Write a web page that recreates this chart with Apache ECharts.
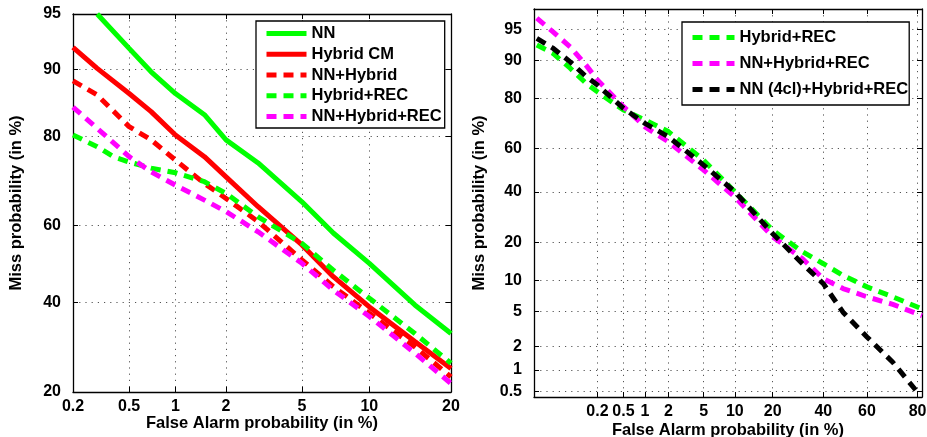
<!DOCTYPE html>
<html>
<head>
<meta charset="utf-8">
<script src="https://cdn.jsdelivr.net/npm/echarts@6/dist/echarts.min.js"></script>
<style>html,body{margin:0;padding:0;background:#fff;} #chart{width:927px;height:437px;}</style>
</head>
<body>
<div id="chart"></div>
<script>
// tick labels (in %)
let leftXTicks = [0.2, 0.5, 1, 2, 5, 10, 20];
let leftYTicks = [20, 40, 60, 80, 90, 95];
let rightXTicks = [0.2, 0.5, 1, 2, 5, 10, 20, 40, 60, 80];
let rightYTicks = [0.5, 1, 2, 5, 10, 20, 40, 60, 80, 90, 95];

// axis limits (in %)
let leftXRange = [0.2, 20];
let leftYRange = [20, 95];
let rightXRange = [0.015, 81.4];
let rightYRange = [0.41, 97];

// left panel curves: [false alarm %, miss %]
let nnLeft = [[0.3, 95], [0.5, 92.2], [0.7, 89.7], [1, 86.9], [1.5, 83.7], [2, 79.3], [3, 74.7], [5, 65.9], [7, 58.1], [10, 50.2], [15, 39.4], [20, 32.4]];
let hybridCmLeft = [[0.2, 92.3], [0.3, 90.1], [0.5, 86.9], [0.7, 84.2], [1, 80.2], [1.5, 76.0], [2, 71.7], [3, 64.7], [5, 55.0], [7, 46.7], [10, 38.9], [15, 30.5], [20, 24.6]];
let nnHybridLeft = [[0.2, 88.6], [0.3, 86.7], [0.5, 81.7], [0.7, 79.3], [1, 75.3], [1.5, 70.2], [2, 66.7], [3, 61.0], [5, 51.1], [7, 44.1], [10, 37.3], [15, 29.3], [20, 22.9]];
let hybridRecLeft = [[0.2, 80.2], [0.3, 78.0], [0.39, 76.0], [0.5, 74.9], [0.7, 73.6], [1, 72.6], [1.5, 70.6], [2, 67.9], [3, 62.2], [5, 55.4], [7, 48.4], [10, 41.1], [15, 32.4], [20, 25.7]];
let nnHybridRecLeft = [[0.2, 84.9], [0.3, 81.4], [0.5, 76.0], [0.7, 72.8], [1, 69.8], [1.5, 66.3], [2, 63.5], [3, 58.4], [5, 50.2], [7, 43.2], [10, 36.5], [15, 27.9], [20, 21.6]];

// right panel curves
let hybridRecRight = [[0.017, 92.8], [0.034, 91.4], [0.07, 88.3], [0.13, 84.5], [0.2, 82.0], [0.5, 75.9], [1, 72.1], [2, 67.4], [5, 54.7], [10, 40.1], [20, 24.2], [31, 17.1], [40, 13.8], [49, 11.0], [60, 8.7], [71, 7.0], [81.4, 5.3]];
let nnHybridRecRight = [[0.017, 96.2], [0.034, 94.7], [0.07, 92.5], [0.13, 89.0], [0.2, 85.4], [0.5, 77.1], [1, 69.4], [2, 63.0], [5, 50.1], [10, 37.8], [20, 21.9], [31, 15.1], [40, 10.3], [49, 8.4], [60, 7.0], [71, 5.9], [81.4, 4.5]];
let nn4clRight = [[0.017, 93.8], [0.034, 92.3], [0.07, 89.7], [0.13, 86.3], [0.2, 84.0], [0.5, 76.5], [1, 70.8], [2, 65.2], [5, 52.4], [10, 40.1], [20, 23.0], [31, 13.8], [40, 9.3], [49, 4.9], [60, 2.6], [71, 1.26], [80, 0.48]];

// inverse normal CDF (DET plot scale)
function probit(p) {
    const a = [-3.969683028665376e+01, 2.209460984245205e+02, -2.759285104469687e+02, 1.383577518672690e+02, -3.066479806614716e+01, 2.506628277459239e+00];
    const b = [-5.447609879822406e+01, 1.615858368580409e+02, -1.556989798598866e+02, 6.680131188771972e+01, -1.328068155288572e+01];
    const c = [-7.784894002430293e-03, -3.223964580411365e-01, -2.400758277161838e+00, -2.549732539343734e+00, 4.374664141464968e+00, 2.938163982698783e+00];
    const d = [7.784695709041462e-03, 3.224671290700398e-01, 2.445134137142996e+00, 3.754408661907416e+00];
    let q, r;
    if (p < 0.02425) {
        q = Math.sqrt(-2 * Math.log(p));
        return (((((c[0]*q+c[1])*q+c[2])*q+c[3])*q+c[4])*q+c[5]) / ((((d[0]*q+d[1])*q+d[2])*q+d[3])*q+1);
    }
    if (p > 1 - 0.02425) {
        q = Math.sqrt(-2 * Math.log(1 - p));
        return -(((((c[0]*q+c[1])*q+c[2])*q+c[3])*q+c[4])*q+c[5]) / ((((d[0]*q+d[1])*q+d[2])*q+d[3])*q+1);
    }
    q = p - 0.5; r = q * q;
    return (((((a[0]*r+a[1])*r+a[2])*r+a[3])*r+a[4])*r+a[5])*q / (((((b[0]*r+b[1])*r+b[2])*r+b[3])*r+b[4])*r+1);
}
function pct(v) { return probit(v / 100); }

let font = 'Liberation Sans, Arial, sans-serif';
let titleStyle = {fontFamily: font, fontWeight: 'bold', fontSize: 16.5, color: '#000'};
let legendText = {fontFamily: font, fontWeight: 'bold', fontSize: 16.5, color: '#000'};

function makeAxis(kind, grid, ticks, range, position, main, name, nameGap) {
    let vals = ticks.map(pct);
    let ax = {
        type: 'value',
        gridIndex: grid,
        position: position,
        min: pct(range[0]),
        max: pct(range[1]),
        axisLine: {show: true, onZero: false, lineStyle: {color: '#000', width: 1.3}},
        axisTick: {show: true, inside: true, length: 5, customValues: vals, lineStyle: {color: '#000'}},
        axisLabel: {show: main, customValues: vals, margin: kind === 'x' ? 7 : 12,
            fontFamily: font, fontWeight: 'bold', fontSize: 16, color: '#000',
            formatter: function (v) {
                for (let i = 0; i < vals.length; i++) {
                    if (Math.abs(vals[i] - v) < 1e-6) return String(ticks[i]);
                }
                return '';
            }},
        splitLine: {show: main, lineStyle: {color: '#555', width: 1, type: [1.2, 5]}}
    };
    if (main) {
        ax.name = name;
        ax.nameLocation = 'middle';
        ax.nameGap = nameGap;
        ax.nameMoveOverlap = false;
        ax.nameTextStyle = titleStyle;
    }
    return ax;
}

function curve(name, data, color, dashed, gi) {
    return {
        name: name,
        type: 'line',
        xAxisIndex: gi * 2,
        yAxisIndex: gi * 2,
        data: data.map(d => [pct(d[0]), pct(d[1])]),
        symbol: 'none',
        clip: true,
        lineStyle: {color: color, width: 5, type: dashed ? [10, 7] : 'solid'},
        itemStyle: {color: color}
    };
}

let myChart = echarts.init(document.getElementById('chart'));
let option = {
    animation: false,
    backgroundColor: '#fff',
    grid: [
        {left: 73, top: 14, width: 378, height: 378, outerBoundsMode: 'none'},
        {left: 534, top: 9, width: 388, height: 388, outerBoundsMode: 'none'}
    ],
    xAxis: [
        makeAxis('x', 0, leftXTicks, leftXRange, 'bottom', true, 'False Alarm probability (in %)', 23),
        makeAxis('x', 0, leftXTicks, leftXRange, 'top', false),
        makeAxis('x', 1, rightXTicks, rightXRange, 'bottom', true, 'False Alarm probability (in %)', 25),
        makeAxis('x', 1, rightXTicks, rightXRange, 'top', false)
    ],
    yAxis: [
        makeAxis('y', 0, leftYTicks, leftYRange, 'left', true, 'Miss probability (in %)', 48),
        makeAxis('y', 0, leftYTicks, leftYRange, 'right', false),
        makeAxis('y', 1, rightYTicks, rightYRange, 'left', true, 'Miss probability (in %)', 46),
        makeAxis('y', 1, rightYTicks, rightYRange, 'right', false)
    ],
    legend: [
        {
            orient: 'vertical', left: 256, top: 21,
            padding: [4, 3, 3, 8], itemGap: 3.75, itemWidth: 40, itemHeight: 16,
            borderColor: '#000', borderWidth: 1.3, backgroundColor: '#fff',
            itemStyle: {opacity: 0},
            lineStyle: {width: 5},
            textStyle: legendText,
            data: ['NN', 'Hybrid CM', 'NN+Hybrid', 'Hybrid+REC', 'NN+Hybrid+REC']
        },
        {
            orient: 'vertical', left: 682, top: 22,
            padding: [7, 1, 7, 8], itemGap: 9, itemWidth: 42, itemHeight: 16,
            borderColor: '#000', borderWidth: 1.3, backgroundColor: '#fff',
            itemStyle: {opacity: 0},
            lineStyle: {width: 5},
            textStyle: legendText,
            data: ['Hybrid+REC', 'NN+Hybrid+REC', 'NN (4cl)+Hybrid+REC']
        }
    ],
    series: [
        curve('NN', nnLeft, '#00ff00', false, 0),
        curve('Hybrid CM', hybridCmLeft, '#ff0000', false, 0),
        curve('NN+Hybrid', nnHybridLeft, '#ff0000', true, 0),
        curve('Hybrid+REC', hybridRecLeft, '#00ff00', true, 0),
        curve('NN+Hybrid+REC', nnHybridRecLeft, '#ff00ff', true, 0),
        curve('Hybrid+REC', hybridRecRight, '#00ff00', true, 1),
        curve('NN+Hybrid+REC', nnHybridRecRight, '#ff00ff', true, 1),
        curve('NN (4cl)+Hybrid+REC', nn4clRight, '#000000', true, 1)
    ]
};
myChart.setOption(option);
</script>
</body>
</html>
